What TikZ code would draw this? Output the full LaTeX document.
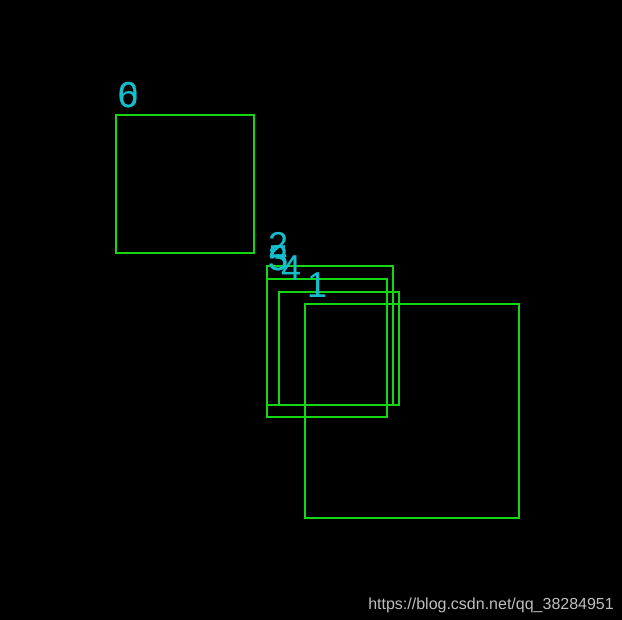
\documentclass[tikz,border=0pt]{standalone}
\usepackage{fontspec}
\setmainfont{Liberation Sans}
\definecolor{boxgreen}{RGB}{20,215,20}
\definecolor{labcyan}{RGB}{20,190,205}
\definecolor{markgray}{RGB}{190,190,190}
\begin{document}
\begin{tikzpicture}[x=1pt,y=-1pt,
  box/.style={draw=boxgreen,line width=1.4pt},
  lab/.style={text=labcyan,anchor=base west,inner sep=0pt,font=\fontsize{36}{36}\selectfont},
  wmark/.style={text=markgray,anchor=base east,inner sep=0pt,font=\fontsize{16}{16}\selectfont}]
\useasboundingbox (0,0) rectangle (622,620);
\fill[black] (0,0) rectangle (622,620);
% rectangles
\draw[box] (116,115) rectangle (254,253);
\draw[box] (267,266) rectangle (393,405);
\draw[box] (267,279) rectangle (387,417);
\draw[box] (279,292) rectangle (399,405);
\draw[box] (305,304) rectangle (519,518);
% labels
\node[lab] (l0) at (118,108) {0};
\node[lab] (l6) at (118,108) {6};
\node[lab] (l2) at (268,258) {2};
\node[lab] (l3) at (268,271) {3};
\node[lab] (l5) at (268,271) {5};
\node[lab] (l4) at (281,281) {4};
\node[lab] (l1) at (307,298) {1};
% watermark
\node[wmark] (wm) at (614,609) {https://blog.csdn.net/qq\_38284951};
\end{tikzpicture}
\end{document}
